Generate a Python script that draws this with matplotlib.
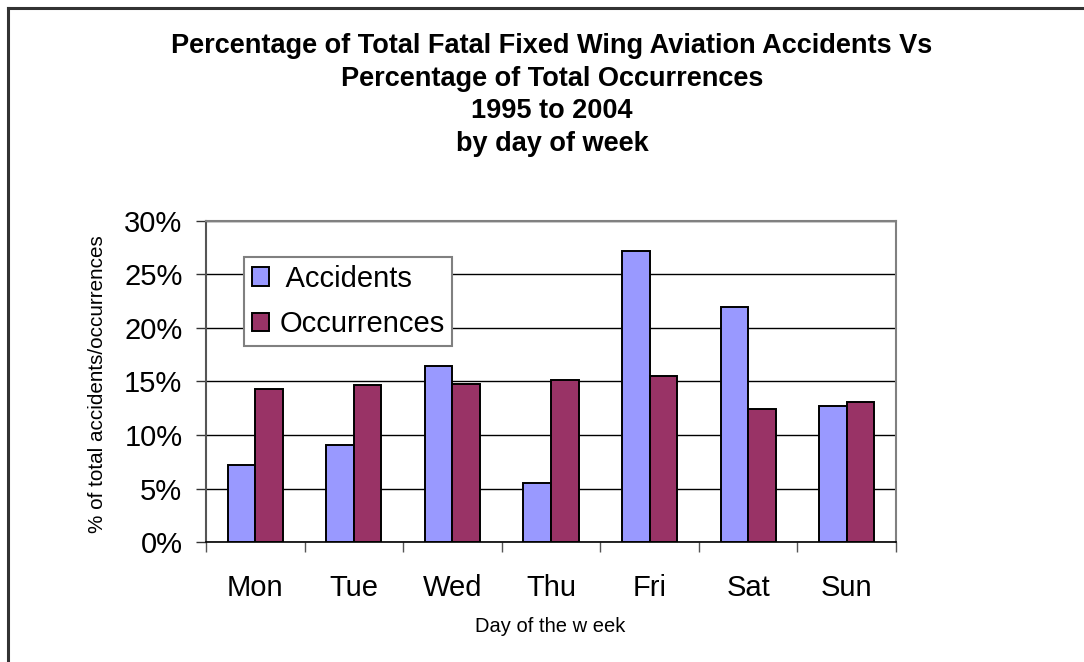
import matplotlib
matplotlib.use("Agg")
import matplotlib.pyplot as plt
import numpy as np

days = ["Mon", "Tue", "Wed", "Thu", "Fri", "Sat", "Sun"]
accidents = [7.2, 9.1, 16.4, 5.5, 27.2, 21.9, 12.7]
occurrences = [14.3, 14.7, 14.8, 15.1, 15.5, 12.4, 13.1]
yticks = [0, 5, 10, 15, 20, 25, 30]
title_lines = ["Percentage of Total Fatal Fixed Wing Aviation Accidents Vs",
               "Percentage of Total Occurrences",
               "1995 to 2004",
               "by day of week"]

plt.rcParams["font.family"] = ["Liberation Sans", "DejaVu Sans"]

W, H = 1084, 662
fig = plt.figure(figsize=(W / 100, H / 100), dpi=100)
fig.patch.set_facecolor("white")

# outer frame (top and left edges visible)
fig.add_artist(plt.Line2D([8 / W, 8 / W], [0, 1 - 8 / H], transform=fig.transFigure,
                          color="#333333", lw=2.2))
fig.add_artist(plt.Line2D([8 / W, 1], [1 - 8 / H, 1 - 8 / H], transform=fig.transFigure,
                          color="#333333", lw=2.2))

ax = fig.add_axes([206 / W, 1 - 542.3 / H, (896 - 206) / W, (542.3 - 220.5) / H])

x = np.arange(len(days))
bw = 0.28
ax.bar(x - bw / 2, accidents, bw, color="#9999FF", edgecolor="black", lw=1.4,
       label=" Accidents", zorder=3)
ax.bar(x + bw / 2, occurrences, bw, color="#993366", edgecolor="black", lw=1.4,
       label="Occurrences", zorder=3)

ax.set_xlim(-0.5, len(days) - 0.5)
ax.set_ylim(0, 30)
ax.set_yticks(yticks)
ax.set_yticklabels([f"{v}%" for v in yticks], fontsize=21)
ax.yaxis.grid(True, color="black", lw=1.0, zorder=0)

ax.set_xticks(np.arange(len(days) + 1) - 0.5)
ax.set_xticklabels([])
ax.set_xticks(x, minor=True)
ax.set_xticklabels(days, minor=True, fontsize=21)
ax.tick_params(axis="x", which="major", length=7, width=1, color="#555555", direction="out")
ax.tick_params(axis="x", which="minor", length=0, pad=23)
ax.tick_params(axis="y", which="major", length=7, width=1, color="#333333", pad=10)

for s in ["top", "right"]:
    ax.spines[s].set_color("#808080")
    ax.spines[s].set_linewidth(1.5)
ax.spines["left"].set_color("#555555")
ax.spines["left"].set_linewidth(1.5)
ax.spines["bottom"].set_color("black")
ax.spines["bottom"].set_linewidth(1.2)

fig.text(97.5 / W, 1 - 384 / H, "% of total accidents/occurrences", rotation=90,
         ha="center", va="center", fontsize=14.9)

fig.text(550 / W, 1 - 632.5 / H, "Day of the w eek", ha="center", va="baseline",
         fontsize=14.5)

baselines = [53.3, 85.8, 118.3, 150.8]
for t, yy in zip(title_lines, baselines):
    fig.text(552 / W, 1 - yy / H, t, ha="center", va="baseline",
             fontsize=19.5, fontweight="bold")

leg = ax.legend(loc="upper left", bbox_to_anchor=(244 / W, 1 - 257 / H),
                bbox_transform=fig.transFigure, fontsize=21, frameon=True,
                fancybox=False, shadow=False, borderpad=0.26, labelspacing=0.6,
                handlelength=0.6, handleheight=0.6, handletextpad=0.35, borderaxespad=0)
leg.get_frame().set_edgecolor("#808080")
leg.get_frame().set_linewidth(1.5)
leg.get_frame().set_facecolor("white")
leg.get_frame().set_alpha(1)
leg.set_zorder(5)

fig.savefig("out.png", dpi=100, facecolor="white")
